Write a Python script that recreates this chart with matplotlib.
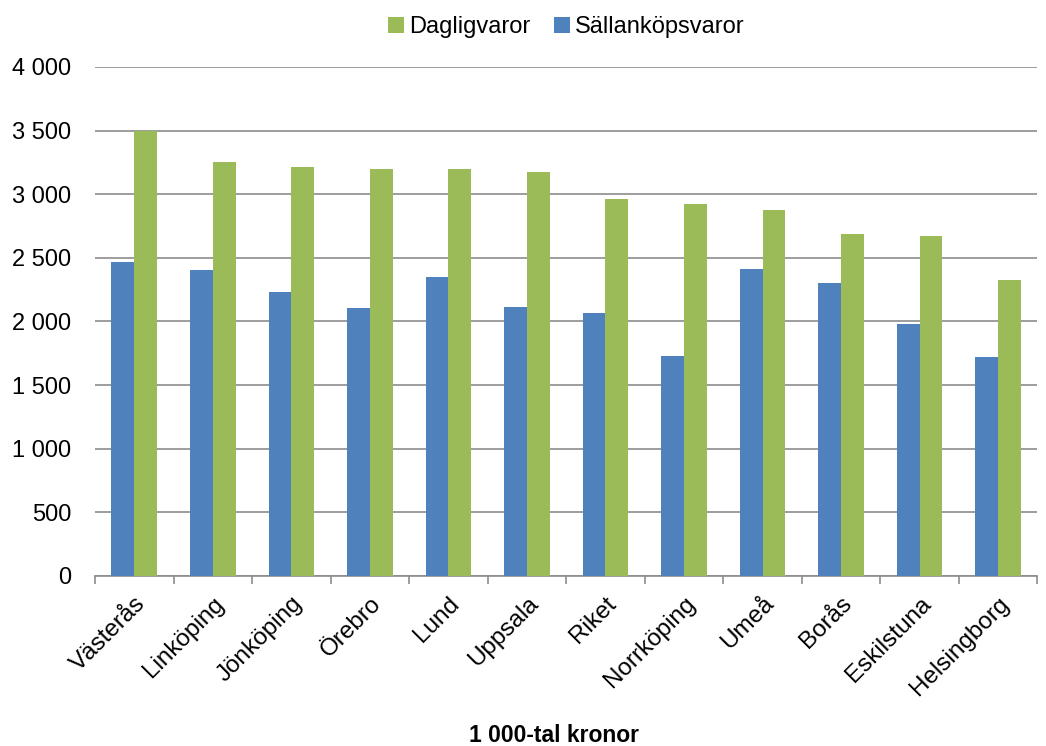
import numpy as np
import matplotlib.pyplot as plt

plt.rcParams['font.family'] = ['Liberation Sans', 'DejaVu Sans']

orter = ["Västerås", "Linköping", "Jönköping", "Örebro", "Lund", "Uppsala",
         "Riket", "Norrköping", "Umeå", "Borås", "Eskilstuna", "Helsingborg"]
dagligvaror = [3497, 3250, 3214, 3198, 3198, 3175, 2963, 2923, 2876, 2688, 2672, 2326]
sallankop = [2467, 2405, 2232, 2106, 2350, 2114, 2067, 1729, 2413, 2303, 1980, 1721]

x = np.arange(len(orter))
w = 0.29

fig = plt.figure(figsize=(10.46, 7.46), dpi=100)
ax = fig.add_axes([0.0908, 0.2279, 0.901, 0.6823])

ax.bar(x - w/2, sallankop, w, color='#4F81BD', label='Sällanköpsvaror', zorder=3)
ax.bar(x + w/2, dagligvaror, w, color='#9BBB59', label='Dagligvaror', zorder=3)

ax.set_xlim(-0.5, len(orter) - 0.5)
ax.set_ylim(0, 4000)
ax.set_yticks(range(0, 4001, 500))
ax.set_yticklabels([f"{v:,}".replace(",", " ") for v in range(0, 4001, 500)], fontsize=17)
ax.yaxis.grid(True, color='#8c8c8c', linewidth=1.2, zorder=0)
ax.tick_params(axis='y', length=0, pad=17)

ax.set_xticks(x)
ax.set_xticklabels(orter, rotation=45, ha='right', rotation_mode='anchor', fontsize=17.5)
ax.set_xticks(np.arange(-0.5, len(orter)), minor=True)
ax.tick_params(axis='x', which='major', length=0, pad=12)
ax.tick_params(axis='x', which='minor', length=6, color='#8c8c8c', width=1.2)

for s in ['top', 'right', 'left']:
    ax.spines[s].set_visible(False)
ax.spines['bottom'].set_color('#8c8c8c')
ax.spines['bottom'].set_linewidth(1.2)

fig.text(0.5296, 4/746, "1 000-tal kronor", fontsize=16.5, fontweight='bold',
         ha='center', va='baseline')

h, l = ax.get_legend_handles_labels()
ax.legend(h[::-1], l[::-1], loc='lower center', bbox_to_anchor=(0.5, 1.015), ncol=2,
          frameon=False, fontsize=17, handlelength=0.7, handleheight=0.7,
          handletextpad=0.2, columnspacing=1.0)

fig.savefig("out.png", dpi=100)
